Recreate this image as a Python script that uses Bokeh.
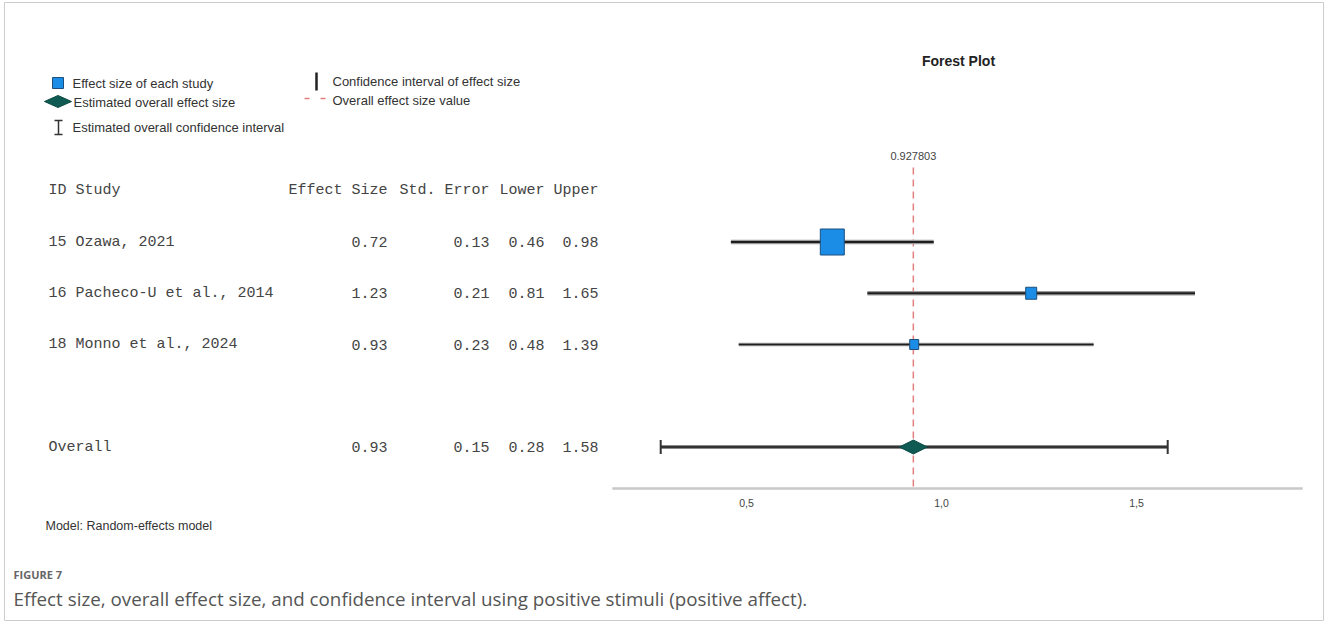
from bokeh.plotting import figure
from bokeh.models import Range1d
from bokeh.core.properties import value
from bokeh.embed import file_html
from bokeh.resources import INLINE

# ---------------- data ----------------
study_ids = ["15", "16", "18"]
study_names = ["Ozawa, 2021", "Pacheco-U et al., 2014", "Monno et al., 2024"]
effect = [0.72, 1.23, 0.93]
std_err = [0.13, 0.21, 0.23]
lower = [0.46, 0.81, 0.48]
upper = [0.98, 1.65, 1.39]
rows = [0, 1, 2]

overall_label = "Overall"
overall_effect = 0.93
overall_se = 0.15
overall_lower = 0.28
overall_upper = 1.58
overall_value = 0.927803
overall_row = 4

header_cols = ["Effect Size", "Std. Error", "Lower", "Upper"]
tick_values = [0.5, 1.0, 1.5]
tick_labels = ["0,5", "1,0", "1,5"]

# marker sizes (screen px)
box_w = [24, 11, 9]
box_h = [26, 12, 10]

legend_left = ["Effect size of each study", "Estimated overall effect size",
               "Estimated overall confidence interval"]
legend_right = ["Confidence interval of effect size", "Overall effect size value"]

# ---------------- figure ----------------
W, H = 1326, 622
p = figure(width=W, height=H, x_range=Range1d(0, W), y_range=Range1d(H, 0),
           output_backend="svg", toolbar_location=None,
           x_axis_type=None, y_axis_type=None, min_border=0)
p.grid.visible = False
p.outline_line_color = None
p.background_fill_color = "white"
p.border_fill_color = "white"

PX_PER_UNIT = 390.0
es0 = 0.5 - 746 / PX_PER_UNIT
p.extra_x_ranges = {"es": Range1d(es0, es0 + W / PX_PER_UNIT)}
ROW_PX = 51.25
ROW0 = 241.5
p.extra_y_ranges = {"row": Range1d((H - ROW0) / ROW_PX, -ROW0 / ROW_PX)}

sans = value("Liberation Sans")
mono = value("Liberation Mono")
TXT = "#333333"
MONO_TXT = "#444444"

# page frame
p.quad(left=[4], right=[1323], top=[2], bottom=[620], fill_alpha=0,
       line_color="#cccccc", line_width=1)

# ---------------- table ----------------
col_right = [387, 489, 544, 598]
p.text(x=[48], y=[-1], text=["ID Study"], y_range_name="row",
       text_font=mono, text_font_size=value("15px"), text_color=MONO_TXT,
       text_align="left", text_baseline="middle")
p.text(x=col_right, y=[-1] * 4, text=header_cols, y_range_name="row",
       text_font=mono, text_font_size=value("15px"), text_color=MONO_TXT,
       text_align="right", text_baseline="middle")
labels = [f"{i} {n}" for i, n in zip(study_ids, study_names)]
p.text(x=[48] * 3, y=rows, text=labels, y_range_name="row",
       text_font=mono, text_font_size=value("15px"), text_color=MONO_TXT,
       text_align="left", text_baseline="middle")
for cx, col in zip(col_right, [effect, std_err, lower, upper]):
    p.text(x=[cx] * len(col), y=rows, text=[f"{v:.2f}" for v in col],
           y_range_name="row", text_font=mono, text_font_size=value("15px"),
           text_color=MONO_TXT, text_align="right", text_baseline="middle")
p.text(x=[48], y=[overall_row], text=[overall_label], y_range_name="row",
       text_font=mono, text_font_size=value("15px"), text_color=MONO_TXT,
       text_align="left", text_baseline="middle")
p.text(x=col_right, y=[overall_row] * 4,
       text=[f"{v:.2f}" for v in [overall_effect, overall_se, overall_lower, overall_upper]],
       y_range_name="row", text_font=mono, text_font_size=value("15px"),
       text_color=MONO_TXT, text_align="right", text_baseline="middle")

# ---------------- forest ----------------
# axis line and ticks
axis_lo, axis_hi = 0.156, 1.926
p.segment(x0=[axis_lo], y0=[488], x1=[axis_hi], y1=[488], x_range_name="es",
          line_color="#c9c9c9", line_width=2.5)
p.text(x=tick_values, y=[502] * 3, text=tick_labels, x_range_name="es",
       text_font=sans, text_font_size=value("10.5px"), text_color="#444444",
       text_align="center", text_baseline="middle")

# dashed overall line + label
p.segment(x0=[overall_value], y0=[167], x1=[overall_value], y1=[488],
          x_range_name="es", line_color="#e28080", line_width=1.5,
          line_dash="7 5")
p.text(x=[overall_value], y=[155], text=[f"{overall_value}"], x_range_name="es",
       text_font=sans, text_font_size=value("11px"), text_color="#444444",
       text_align="center", text_baseline="middle")

# study CIs
lw_halo = [4.5, 4.5, 3.5]
lw_core = [2.2, 2.2, 1.6]
p.segment(x0=lower, y0=rows, x1=upper, y1=rows, x_range_name="es",
          y_range_name="row", line_color="#9a9a9a", line_width=lw_halo)
p.segment(x0=lower, y0=rows, x1=upper, y1=rows, x_range_name="es",
          y_range_name="row", line_color="#1e1e1e", line_width=lw_core)
p.rect(x=effect, y=rows, width=box_w, height=box_h, width_units="screen",
       height_units="screen", x_range_name="es", y_range_name="row",
       fill_color="#1b8de6", line_color="#1d4f7c", line_width=1)

# overall CI
p.segment(x0=[overall_lower], y0=[overall_row], x1=[overall_upper], y1=[overall_row],
          x_range_name="es", y_range_name="row", line_color="#8a8a8a", line_width=4)
p.segment(x0=[overall_lower], y0=[overall_row], x1=[overall_upper], y1=[overall_row],
          x_range_name="es", y_range_name="row", line_color="#333333", line_width=1.8)
p.scatter(x=[overall_lower, overall_upper], y=[overall_row] * 2, marker="dash",
          angle=1.5707963, size=14, x_range_name="es", y_range_name="row",
          line_color="#333333", line_width=2)
hw = 14 / PX_PER_UNIT
hh = 7 / ROW_PX
p.patch(x=[overall_value - hw, overall_value, overall_value + hw, overall_value],
        y=[overall_row, overall_row - hh, overall_row, overall_row + hh],
        x_range_name="es", y_range_name="row",
        fill_color="#0f5a53", line_color="#0b4a44", line_width=1)

# ---------------- title ----------------
p.text(x=[958], y=[60], text=["Forest Plot"], text_font=sans,
       text_font_size=value("14px"), text_font_style="bold", text_color="#222222",
       text_align="center", text_baseline="middle")

# ---------------- legend ----------------
p.rect(x=[57.5], y=[82.5], width=[11], height=[11], fill_color="#1b8de6",
       line_color="#1d4f7c", line_width=1)
p.patch(x=[44, 57.5, 71, 57.5], y=[101, 95, 101, 107], fill_color="#0f5a53",
        line_color="#0b4a44", line_width=1)
p.segment(x0=[58, 54, 54], y0=[120, 120, 134], x1=[58, 62, 62], y1=[134, 120, 134],
          line_color="#333333", line_width=1.5)
p.text(x=[72, 73, 72], y=[83, 102, 127], text=legend_left, text_font=sans,
       text_font_size=value("13px"), text_color=TXT, text_align="left",
       text_baseline="middle")
p.segment(x0=[316], y0=[72], x1=[316], y1=[90], line_color="#222222", line_width=2.5)
p.segment(x0=[304], y0=[98], x1=[325], y1=[98], line_color="#e28080",
          line_width=1.5, line_dash="5 11")
p.text(x=[332, 332], y=[81, 100], text=legend_right, text_font=sans,
       text_font_size=value("13px"), text_color=TXT, text_align="left",
       text_baseline="middle")

# ---------------- notes / caption ----------------
p.text(x=[45], y=[525], text=["Model: Random-effects model"], text_font=sans,
       text_font_size=value("12.5px"), text_color=TXT, text_align="left",
       text_baseline="middle")
p.text(x=[13], y=[574], text=["FIGURE 7"], text_font=value("Open Sans"),
       text_font_size=value("11px"), text_font_style="bold", text_color="#666666",
       text_align="left", text_baseline="middle")
p.text(x=[13], y=[598],
       text=["Effect size, overall effect size, and confidence interval using positive stimuli (positive affect)."],
       text_font=value("Open Sans"), text_font_size=value("18.8px"), text_color="#555555",
       text_align="left", text_baseline="middle")

open("out.html", "w").write(file_html(p, INLINE))
